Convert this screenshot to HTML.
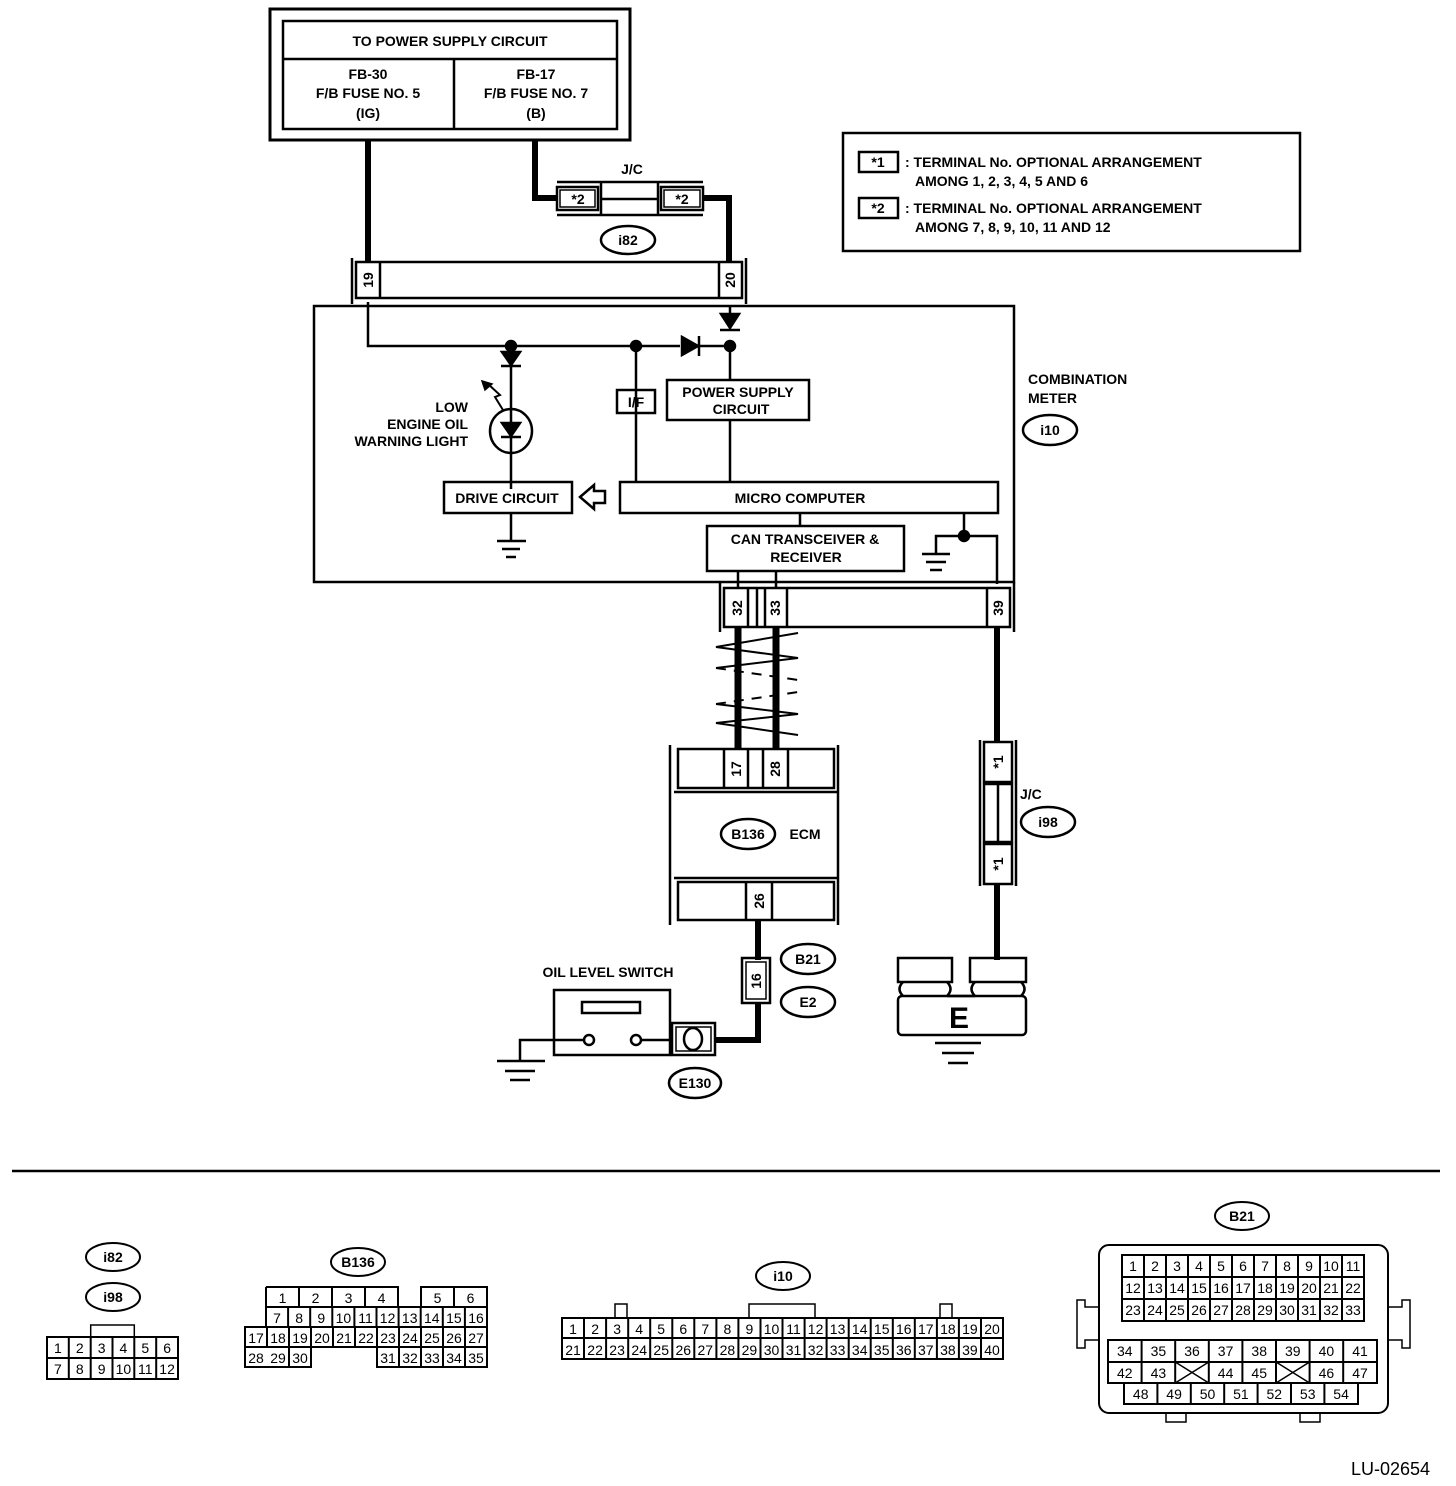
<!DOCTYPE html>
<html><head><meta charset="utf-8"><style>
html,body{margin:0;padding:0;background:#fff}
svg{display:block}
text{font-family:"Liberation Sans",sans-serif;font-weight:bold;font-size:14px;fill:#000}
.n text{font-weight:normal;font-size:14px;text-anchor:middle}
</style></head><body>
<svg width="1456" height="1486" viewBox="0 0 1456 1486" xmlns="http://www.w3.org/2000/svg">
<g fill="none" stroke="#000" stroke-width="2.5">
<rect x="270" y="9" width="360" height="131" stroke-width="3"/>
<rect x="283" y="21" width="334" height="108"/>
<line x1="283" y1="59" x2="617" y2="59"/>
<line x1="454" y1="59" x2="454" y2="129"/>
<path d="M368 140 V262" stroke-width="6"/>
<path d="M535 140 V198 H557" stroke-width="6"/>
<path d="M703 198 H729 V262" stroke-width="6"/>
<rect x="557" y="187" width="41" height="23"/><rect x="560" y="190" width="35" height="17" stroke-width="1.5"/>
<rect x="661" y="187" width="42" height="23"/><rect x="664" y="190" width="36" height="17" stroke-width="1.5"/>
<line x1="557" y1="182" x2="703" y2="182"/><line x1="557" y1="215" x2="703" y2="215"/>
<line x1="601" y1="182" x2="601" y2="215"/><line x1="658" y1="182" x2="658" y2="215"/>
<line x1="601" y1="199" x2="658" y2="199"/>
<ellipse cx="628" cy="240" rx="27" ry="14"/>
<line x1="352" y1="258" x2="352" y2="304"/><line x1="746" y1="258" x2="746" y2="304"/>
<rect x="356" y="262" width="386" height="36"/>
<line x1="380" y1="262" x2="380" y2="298"/><line x1="719" y1="262" x2="719" y2="298"/>
<rect x="314" y="306" width="700" height="276"/>
<path d="M368 302 V346 H680"/><path d="M698 346 H730 V380"/>
<path d="M730 306 V316"/>
<path d="M511 346 V489"/>
<path d="M636 346 V482"/>
<path d="M730 420 V482"/>
<rect x="617" y="390" width="38" height="23"/>
<rect x="667" y="380" width="142" height="40"/>
<rect x="620" y="482" width="378" height="31"/>
<rect x="444" y="482" width="128" height="31"/>
<path d="M580 497 L594 485 V491 H605 V503 H594 V509 Z" stroke-width="2.5"/>
<path d="M511 513 V540"/>
<line x1="497" y1="541" x2="526" y2="541"/><line x1="502" y1="549" x2="520" y2="549"/><line x1="506" y1="557" x2="516" y2="557"/>
<rect x="707" y="526" width="197" height="45"/>
<path d="M800 513 V526"/>
<path d="M964 513 V536"/><path d="M936 554 V536 H997 V584"/>
<line x1="922" y1="554" x2="950" y2="554"/><line x1="926" y1="562" x2="946" y2="562"/><line x1="930" y1="570" x2="942" y2="570"/>
<path d="M738 571 V588"/><path d="M776 571 V588"/>
<ellipse cx="511" cy="431" rx="21" ry="22"/>
<path d="M503 410 L495 397 L500 395 L488 384" stroke-width="2"/>
<line x1="720" y1="582" x2="720" y2="632"/><line x1="1014" y1="582" x2="1014" y2="632"/>
<rect x="724" y="588" width="286" height="39"/>
<line x1="748" y1="588" x2="748" y2="627"/><line x1="757" y1="588" x2="757" y2="627"/>
<line x1="765" y1="588" x2="765" y2="627"/><line x1="787" y1="588" x2="787" y2="627"/>
<line x1="987" y1="588" x2="987" y2="627"/>
<path d="M738 627 V749" stroke-width="7"/><path d="M776 627 V749" stroke-width="7"/>
<path d="M997 627 V742" stroke-width="6"/>
<g stroke-width="2">
<path d="M798 633 L716 647 L798 658 L716 668"/>
<path d="M716 668 L798 680" stroke-dasharray="10 8"/>
<path d="M716 704 L798 692" stroke-dasharray="10 8"/>
<path d="M716 704 L798 714 L716 723 L798 735"/>
</g>
<line x1="670" y1="745" x2="670" y2="925"/><line x1="838" y1="745" x2="838" y2="925"/>
<rect x="678" y="749" width="156" height="39"/>
<line x1="724" y1="749" x2="724" y2="788"/><line x1="748" y1="749" x2="748" y2="788"/>
<line x1="763" y1="749" x2="763" y2="788"/><line x1="788" y1="749" x2="788" y2="788"/>
<line x1="674" y1="792" x2="838" y2="792"/><line x1="674" y1="878" x2="838" y2="878"/>
<rect x="678" y="882" width="156" height="38"/>
<line x1="746" y1="882" x2="746" y2="920"/><line x1="772" y1="882" x2="772" y2="920"/>
<ellipse cx="748" cy="834" rx="27" ry="15"/>
<path d="M758 920 V960" stroke-width="6"/>
<rect x="742" y="958" width="28" height="45"/><rect x="746" y="962" width="20" height="37" stroke-width="1.5"/>
<path d="M758 1003 V1040 H715" stroke-width="6"/>
<ellipse cx="808" cy="959" rx="27" ry="15"/><ellipse cx="808" cy="1002" rx="27" ry="15"/>
<rect x="554" y="990" width="116" height="65"/>
<rect x="582" y="1002" width="58" height="11"/>
<circle cx="589" cy="1040" r="5"/><circle cx="636" cy="1040" r="5"/>
<path d="M584 1040 H520 V1060"/><path d="M641 1040 H670"/>
<line x1="497" y1="1061" x2="545" y2="1061"/><line x1="505" y1="1071" x2="535" y2="1071"/><line x1="510" y1="1080" x2="530" y2="1080"/>
<rect x="672" y="1023" width="43" height="32"/><rect x="676" y="1027" width="35" height="24" stroke-width="1.5"/>
<ellipse cx="693" cy="1039" rx="9" ry="11"/>
<ellipse cx="695" cy="1083" rx="26" ry="15"/>
<line x1="980" y1="740" x2="980" y2="886"/><line x1="1016" y1="740" x2="1016" y2="886"/>
<rect x="984" y="742" width="28" height="40"/>
<rect x="984" y="784" width="28" height="58"/><line x1="998" y1="784" x2="998" y2="842"/>
<rect x="984" y="844" width="28" height="40"/>
<path d="M997 884 V960" stroke-width="6"/>
<ellipse cx="1048" cy="822" rx="27" ry="15"/>
<!-- ground E -->
<rect x="898" y="958" width="54" height="24"/><rect x="970" y="958" width="56" height="24"/>
<path d="M903 982 Q896 989 903 996 M1021 982 Q1028 989 1021 996 M947 982 Q954 989 947 996 M975 982 Q968 989 975 996 M947 996 H975"/>
<rect x="898" y="996" width="128" height="39" rx="4"/>
<line x1="935" y1="1043" x2="981" y2="1043"/><line x1="942" y1="1053" x2="974" y2="1053"/><line x1="948" y1="1063" x2="968" y2="1063"/>
<rect x="843" y="133" width="457" height="118"/>
<rect x="859" y="152" width="39" height="20"/><rect x="859" y="198" width="39" height="20"/>
<ellipse cx="1050" cy="430" rx="27" ry="15"/>
<line x1="12" y1="1171" x2="1440" y2="1171"/>
</g>
<g fill="#000" stroke="#000" stroke-width="2.5">
<path d="M682 337 L698 346 L682 355 Z"/><line x1="699" y1="336" x2="699" y2="356"/>
<path d="M721 314 L739 314 L730 328 Z"/><line x1="720" y1="330" x2="740" y2="330"/>
<path d="M502 352 L520 352 L511 365 Z"/><line x1="501" y1="366" x2="521" y2="366"/>
<path d="M502 423 L520 423 L511 436 Z"/><line x1="501" y1="437" x2="521" y2="437"/>
<circle cx="511" cy="346" r="5"/><circle cx="636" cy="346" r="5"/><circle cx="730" cy="346" r="5"/><circle cx="964" cy="536" r="5"/>
<path d="M482 381 L492 384 L485 390 Z" stroke-width="1.5"/>
</g>
<text x="450" y="46" text-anchor="middle">TO POWER SUPPLY CIRCUIT</text>
<g text-anchor="middle">
<text x="368" y="79">FB-30</text><text x="368" y="98">F/B FUSE NO. 5</text><text x="368" y="118">(IG)</text>
<text x="536" y="79">FB-17</text><text x="536" y="98">F/B FUSE NO. 7</text><text x="536" y="118">(B)</text>
<text x="632" y="174">J/C</text>
<text x="578" y="204">*2</text><text x="682" y="204">*2</text>
<text x="628" y="245">i82</text>
<text x="636" y="407">I/F</text>
<text x="738" y="397">POWER SUPPLY</text><text x="741" y="414">CIRCUIT</text>
<text x="800" y="503">MICRO COMPUTER</text>
<text x="507" y="503">DRIVE CIRCUIT</text>
<text x="805" y="544">CAN TRANSCEIVER &amp;</text><text x="806" y="562">RECEIVER</text>
<text x="1050" y="435">i10</text>
<text x="748" y="839">B136</text>
<text x="805" y="839">ECM</text>
<text x="808" y="964">B21</text><text x="808" y="1007">E2</text>
<text x="695" y="1088">E130</text>
<text x="1048" y="827">i98</text>
<text x="878" y="167">*1</text><text x="878" y="213">*2</text>
<text x="608" y="977">OIL LEVEL SWITCH</text>
<text x="959" y="1028" style="font-size:30px">E</text>
</g>
<g text-anchor="end"><text x="468" y="412">LOW</text><text x="468" y="429">ENGINE OIL</text><text x="468" y="446">WARNING LIGHT</text></g>
<text x="1028" y="384">COMBINATION</text><text x="1028" y="403">METER</text>
<text x="1020" y="799">J/C</text>
<text x="905" y="167">: TERMINAL No. OPTIONAL ARRANGEMENT</text><text x="915" y="186">AMONG 1, 2, 3, 4, 5 AND 6</text>
<text x="905" y="213">: TERMINAL No. OPTIONAL ARRANGEMENT</text><text x="915" y="232">AMONG 7, 8, 9, 10, 11 AND 12</text>
<g style="font-size:12px" text-anchor="middle">
<text transform="translate(373,280) rotate(-90)">19</text>
<text transform="translate(735,280) rotate(-90)">20</text>
<text transform="translate(742,608) rotate(-90)">32</text>
<text transform="translate(780,608) rotate(-90)">33</text>
<text transform="translate(1003,608) rotate(-90)">39</text>
<text transform="translate(741,769) rotate(-90)">17</text>
<text transform="translate(780,769) rotate(-90)">28</text>
<text transform="translate(764,901) rotate(-90)">26</text>
<text transform="translate(761,981) rotate(-90)">16</text>
<text transform="translate(1003,762) rotate(-90)">*1</text>
<text transform="translate(1003,864) rotate(-90)">*1</text>
</g>
<text x="1430" y="1475" text-anchor="end" style="font-weight:normal;font-size:18px">LU-02654</text>

<g fill="none" stroke="#000" stroke-width="2">
<ellipse cx="113" cy="1257" rx="27" ry="14"/><ellipse cx="113" cy="1297" rx="27" ry="14"/>
<ellipse cx="358" cy="1262" rx="27" ry="14"/><ellipse cx="783" cy="1276" rx="27" ry="14"/><ellipse cx="1242" cy="1216" rx="27" ry="14"/>
<rect x="47" y="1337" width="131" height="42"/><line x1="47" y1="1358" x2="178" y2="1358"/>
<path d="M68.8 1337V1379M90.7 1337V1379M112.5 1337V1379M134.3 1337V1379M156.2 1337V1379"/>
<path d="M90.7 1337V1325H134.3V1337" stroke-width="1.5"/>
<path d="M266 1287H398V1307M421 1307V1287H487V1367H377V1347M311 1347V1367H245V1327H266V1287"/>
<path d="M266 1307H487M245 1327H487M245 1347H487M299 1287V1307M332 1287V1307M365 1287V1307M398 1287V1307M454 1287V1307"/>
<path d="M288.1 1307V1327M310.2 1307V1327M332.3 1307V1327M354.4 1307V1327M376.5 1307V1327M398.6 1307V1327M420.7 1307V1327M442.8 1307V1327M464.9 1307V1327"/>
<path d="M267 1327V1347M289 1327V1367M311 1327V1347M333 1327V1347M355 1327V1347M377 1327V1347M399 1327V1367M421 1327V1367M443 1327V1367M465 1327V1367"/>
<rect x="562" y="1318" width="441" height="41"/><line x1="562" y1="1338" x2="1003" y2="1338"/>
<path d="M584 1318V1359M606.1 1318V1359M628.2 1318V1359M650.2 1318V1359M672.3 1318V1359M694.3 1318V1359M716.4 1318V1359M738.4 1318V1359M760.5 1318V1359M782.5 1318V1359M804.6 1318V1359M826.6 1318V1359M848.7 1318V1359M870.7 1318V1359M892.8 1318V1359M914.8 1318V1359M936.9 1318V1359M958.9 1318V1359M981 1318V1359"/>
<path d="M615 1318V1304H627V1318M749 1318V1304H815V1318M940 1318V1304H952V1318" stroke-width="1.5"/>
<rect x="1099" y="1245" width="289" height="168" rx="10"/>
<path d="M1099 1307H1085V1300H1077V1348H1085V1340H1099M1388 1307H1402V1300H1410V1348H1402V1340H1388M1166 1413V1422H1186V1413M1300 1413V1422H1320V1413" stroke-width="1.5"/>
<rect x="1122" y="1255" width="242" height="66"/>
<path d="M1122 1277H1364M1122 1299H1364M1144 1255V1321M1166 1255V1321M1188 1255V1321M1210 1255V1321M1232 1255V1321M1254 1255V1321M1276 1255V1321M1298 1255V1321M1320 1255V1321M1342 1255V1321"/>
<rect x="1108" y="1340" width="269" height="43"/><line x1="1108" y1="1362" x2="1377" y2="1362"/>
<path d="M1141.6 1340V1383M1175.2 1340V1383M1208.8 1340V1383M1242.4 1340V1383M1276 1340V1383M1309.6 1340V1383M1343.2 1340V1383"/>
<path d="M1175.2 1362L1208.8 1383M1208.8 1362L1175.2 1383M1276 1362L1309.6 1383M1309.6 1362L1276 1383" stroke-width="1.5"/>
<rect x="1124" y="1383" width="234" height="21"/>
<path d="M1157.4 1383V1404M1190.8 1383V1404M1224.2 1383V1404M1257.6 1383V1404M1291 1383V1404M1324.4 1383V1404"/>
</g>
<g text-anchor="middle">
<text x="113" y="1262">i82</text><text x="113" y="1302">i98</text><text x="358" y="1267">B136</text><text x="783" y="1281">i10</text><text x="1242" y="1221">B21</text>
</g>
<g class="n">
<text x="57.9" y="1353">1</text><text x="79.8" y="1353">2</text><text x="101.6" y="1353">3</text><text x="123.4" y="1353">4</text><text x="145.3" y="1353">5</text><text x="167.1" y="1353">6</text>
<text x="57.9" y="1374">7</text><text x="79.8" y="1374">8</text><text x="101.6" y="1374">9</text><text x="123.4" y="1374">10</text><text x="145.3" y="1374">11</text><text x="167.1" y="1374">12</text>
<text x="282.5" y="1303">1</text><text x="315.5" y="1303">2</text><text x="348.5" y="1303">3</text><text x="381.5" y="1303">4</text><text x="437.5" y="1303">5</text><text x="470.5" y="1303">6</text>
<text x="277" y="1323">7</text><text x="299.2" y="1323">8</text><text x="321.3" y="1323">9</text><text x="343.4" y="1323">10</text><text x="365.5" y="1323">11</text><text x="387.6" y="1323">12</text><text x="409.7" y="1323">13</text><text x="431.8" y="1323">14</text><text x="453.9" y="1323">15</text><text x="476" y="1323">16</text>
<text x="256" y="1343">17</text><text x="278" y="1343">18</text><text x="300" y="1343">19</text><text x="322" y="1343">20</text><text x="344" y="1343">21</text><text x="366" y="1343">22</text><text x="388" y="1343">23</text><text x="410" y="1343">24</text><text x="432" y="1343">25</text><text x="454" y="1343">26</text><text x="476" y="1343">27</text>
<text x="256" y="1363">28</text><text x="278" y="1363">29</text><text x="300" y="1363">30</text><text x="388" y="1363">31</text><text x="410" y="1363">32</text><text x="432" y="1363">33</text><text x="454" y="1363">34</text><text x="476" y="1363">35</text>
<text x="573" y="1334">1</text><text x="595.1" y="1334">2</text><text x="617.1" y="1334">3</text><text x="639.2" y="1334">4</text><text x="661.2" y="1334">5</text><text x="683.3" y="1334">6</text><text x="705.3" y="1334">7</text><text x="727.4" y="1334">8</text><text x="749.4" y="1334">9</text><text x="771.5" y="1334">10</text><text x="793.5" y="1334">11</text><text x="815.6" y="1334">12</text><text x="837.6" y="1334">13</text><text x="859.7" y="1334">14</text><text x="881.7" y="1334">15</text><text x="903.8" y="1334">16</text><text x="925.8" y="1334">17</text><text x="947.9" y="1334">18</text><text x="969.9" y="1334">19</text><text x="992" y="1334">20</text>
<text x="573" y="1355">21</text><text x="595.1" y="1355">22</text><text x="617.1" y="1355">23</text><text x="639.2" y="1355">24</text><text x="661.2" y="1355">25</text><text x="683.3" y="1355">26</text><text x="705.3" y="1355">27</text><text x="727.4" y="1355">28</text><text x="749.4" y="1355">29</text><text x="771.5" y="1355">30</text><text x="793.5" y="1355">31</text><text x="815.6" y="1355">32</text><text x="837.6" y="1355">33</text><text x="859.7" y="1355">34</text><text x="881.7" y="1355">35</text><text x="903.8" y="1355">36</text><text x="925.8" y="1355">37</text><text x="947.9" y="1355">38</text><text x="969.9" y="1355">39</text><text x="992" y="1355">40</text>
<text x="1133" y="1271">1</text><text x="1155" y="1271">2</text><text x="1177" y="1271">3</text><text x="1199" y="1271">4</text><text x="1221" y="1271">5</text><text x="1243" y="1271">6</text><text x="1265" y="1271">7</text><text x="1287" y="1271">8</text><text x="1309" y="1271">9</text><text x="1331" y="1271">10</text><text x="1353" y="1271">11</text>
<text x="1133" y="1293">12</text><text x="1155" y="1293">13</text><text x="1177" y="1293">14</text><text x="1199" y="1293">15</text><text x="1221" y="1293">16</text><text x="1243" y="1293">17</text><text x="1265" y="1293">18</text><text x="1287" y="1293">19</text><text x="1309" y="1293">20</text><text x="1331" y="1293">21</text><text x="1353" y="1293">22</text>
<text x="1133" y="1315">23</text><text x="1155" y="1315">24</text><text x="1177" y="1315">25</text><text x="1199" y="1315">26</text><text x="1221" y="1315">27</text><text x="1243" y="1315">28</text><text x="1265" y="1315">29</text><text x="1287" y="1315">30</text><text x="1309" y="1315">31</text><text x="1331" y="1315">32</text><text x="1353" y="1315">33</text>
<text x="1124.8" y="1356">34</text><text x="1158.4" y="1356">35</text><text x="1192" y="1356">36</text><text x="1225.6" y="1356">37</text><text x="1259.2" y="1356">38</text><text x="1292.8" y="1356">39</text><text x="1326.4" y="1356">40</text><text x="1360" y="1356">41</text>
<text x="1124.8" y="1378">42</text><text x="1158.4" y="1378">43</text><text x="1225.6" y="1378">44</text><text x="1259.2" y="1378">45</text><text x="1326.4" y="1378">46</text><text x="1360" y="1378">47</text>
<text x="1140.7" y="1399">48</text><text x="1174.1" y="1399">49</text><text x="1207.5" y="1399">50</text><text x="1240.9" y="1399">51</text><text x="1274.3" y="1399">52</text><text x="1307.7" y="1399">53</text><text x="1341.1" y="1399">54</text>
</g>
</svg>
</body></html>
